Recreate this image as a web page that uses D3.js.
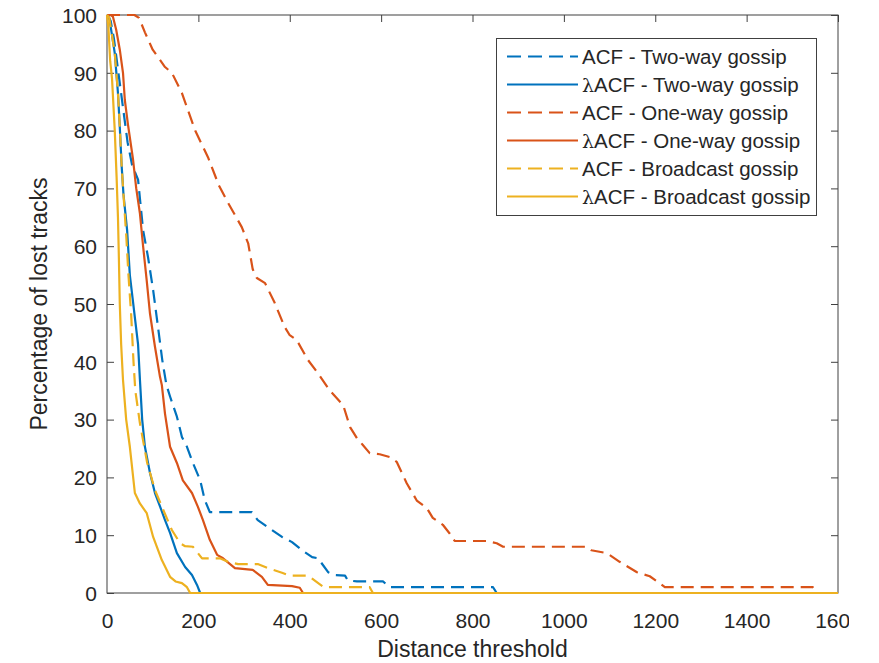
<!DOCTYPE html>
<html>
<head>
<meta charset="utf-8">
<script src="https://cdn.jsdelivr.net/npm/d3@7"></script>
<style>
  html, body { margin: 0; padding: 0; background: #fff; }
  svg text { font-family: "Liberation Sans", Arial, Helvetica, sans-serif; fill: #262626; }
</style>
</head>
<body>
<div id="chart"></div>
<script>
// Lost tracks vs distance threshold (MATLAB style line chart)

const xTicks = [0, 200, 400, 600, 800, 1000, 1200, 1400, 1600];
const yTicks = [0, 10, 20, 30, 40, 50, 60, 70, 80, 90, 100];

const seriesNames = [
    "ACF - Two-way gossip",
    "\u03bbACF - Two-way gossip",
    "ACF - One-way gossip",
    "\u03bbACF - One-way gossip",
    "ACF - Broadcast gossip",
    "\u03bbACF - Broadcast gossip"
];

// [distance, percentage]
const acfTwoWay = [[0,100],[8,99],[15,96],[25,90],[35,84],[45,78],[55,74],[68,71.5],[79,62.8],[90,58],[101,52.4],
    [110,47],[121,40.3],[130,36],[138,34],[153,30.5],[164,27],[175,25.3],[188,22.5],[204,19.5],[214,16.1],[225,14],
    [317,14],[330,12.6],[352,11.4],[383,9.7],[405,8.8],[427,7.4],[449,6.2],[462,6],[484,3.6],[499,3.1],[521,3],
    [527,2.2],[547,2],[604,2],[619,1],[845,1],[853,0],[1600,0]];

const lacfTwoWay = [[0,100],[5,99.5],[10,97],[17,93.4],[24,86.5],[28,80.6],[32,74],[36,69],[44,62.8],[50,55],
    [56,51],[62,47],[68,43],[72,37],[77,30],[83,25.3],[94,20.8],[105,17.3],[116,15],[127,12.6],[138,10.4],
    [153,6.9],[171,4.5],[186,3.1],[197,1.4],[204,0],[1600,0]];

const acfOneWay = [[0,100],[60,100],[70,99.5],[83,97],[100,94],[127,91],[142,90],[164,86.5],[193,80],[221,75.4],
    [245,70.5],[265,67.5],[295,63.3],[309,60.5],[319,56],[328,54.5],[346,53.6],[367,50.2],[389,46],[400,44.6],
    [415,43.8],[440,40.3],[462,38],[488,35],[517,32.5],[532,28.7],[547,26.8],[560,25.6],[575,24.2],[597,24],
    [620,23.5],[634,22.7],[656,19],[678,16],[700,14.7],[713,13],[735,11.8],[750,10.3],[761,9],[831,9],[853,8.6],
    [867,8],[1050,8],[1060,7.4],[1094,6.9],[1122,5.4],[1160,3.6],[1188,2.9],[1206,1.9],[1221,1],[1545,1],
    [1556,0],[1600,0]];

const lacfOneWay = [[0,100],[8,100],[13,99.7],[20,97.5],[28,94],[35,90],[39,85.3],[46,81],[57,75],[64,70],
    [72,65.7],[79,60],[87,54],[94,48.4],[105,42.6],[116,37.4],[120,36],[127,31],[138,25.3],[153,22.5],[166,19.5],
    [186,17.3],[199,14.9],[210,12.6],[225,9.2],[241,6.6],[254,6],[280,4.3],[319,4],[339,2.8],[352,1.4],
    [405,1.2],[422,0.9],[429,0],[1600,0]];

const acfBroadcast = [[0,100],[5,99.5],[10,97],[17,93.4],[24,86.5],[28,80.6],[32,74],[36,69],[42,62],[47,55],
    [53,48],[58,40],[62,35],[72,29.4],[88,22.5],[105,17.8],[123,14.4],[142,10.9],[160,8.6],[171,8.1],[188,8],
    [198,7],[208,6],[247,6],[265,5.4],[287,5],[330,5],[352,4.3],[383,3.5],[400,3],[440,3],[466,1.5],[475,1],
    [575,1],[582,0],[1600,0]];

const lacfBroadcast = [[0,100],[3,98],[7,92],[11,89],[17,80],[21,72],[24,65],[26,58],[28,50],[31,43],[35,36.9],
    [42,30],[50,25.3],[61,17.3],[72,15.5],[87,13.8],[101,9.7],[120,5.7],[138,2.8],[150,2],[164,1.7],[175,1],
    [182,0],[1600,0]];

const seriesData = [acfTwoWay, lacfTwoWay, acfOneWay, lacfOneWay, acfBroadcast, lacfBroadcast];
const seriesColors = ["#0072BD", "#0072BD", "#D95319", "#D95319", "#EDB120", "#EDB120"];
const seriesDashed = [true, false, true, false, true, false];

const width = 879, height = 663;
const plot = { left: 107, right: 838, top: 15, bottom: 593 };

const svg = d3.select("#chart").append("svg")
    .attr("width", width)
    .attr("height", height);

const x = d3.scaleLinear().domain([0, 1600]).range([plot.left, plot.right]);
const y = d3.scaleLinear().domain([0, 100]).range([plot.bottom, plot.top]);

const axisColor = "#404040";
const tickLen = 7;

// the figure was cropped on the right, cutting the last x label
svg.append("clipPath").attr("id", "labelClip")
    .append("rect").attr("x", 0).attr("y", 0).attr("width", 849).attr("height", height);

// bottom axis
const xAxisG = svg.append("g")
    .attr("transform", `translate(0,${plot.bottom})`)
    .attr("clip-path", "url(#labelClip)")
    .call(d3.axisBottom(x).tickValues(xTicks).tickSize(-tickLen).tickPadding(0).tickFormat(d3.format("d")));
xAxisG.select(".domain").remove();
xAxisG.selectAll(".tick line").attr("stroke", axisColor);
xAxisG.selectAll(".tick text")
    .attr("y", 34.5).attr("dy", null)
    .style("font-size", "21px");

// top ticks
const xTopG = svg.append("g")
    .attr("transform", `translate(0,${plot.top})`)
    .call(d3.axisTop(x).tickValues(xTicks).tickSize(-tickLen).tickFormat(""));
xTopG.select(".domain").remove();
xTopG.selectAll(".tick line").attr("stroke", axisColor);

// left axis
const yAxisG = svg.append("g")
    .attr("transform", `translate(${plot.left},0)`)
    .call(d3.axisLeft(y).tickValues(yTicks).tickSize(-tickLen).tickPadding(0));
yAxisG.select(".domain").remove();
yAxisG.selectAll(".tick line").attr("stroke", axisColor);
yAxisG.selectAll(".tick text")
    .attr("x", -10).attr("dy", "0.35em")
    .style("font-size", "21px");

// right ticks
const yRightG = svg.append("g")
    .attr("transform", `translate(${plot.right},0)`)
    .call(d3.axisRight(y).tickValues(yTicks).tickSize(-tickLen).tickFormat(""));
yRightG.select(".domain").remove();
yRightG.selectAll(".tick line").attr("stroke", axisColor);

// box
svg.append("rect")
    .attr("x", plot.left).attr("y", plot.top)
    .attr("width", plot.right - plot.left).attr("height", plot.bottom - plot.top)
    .attr("fill", "none").attr("stroke", axisColor).attr("stroke-width", 1);

// axis labels
svg.append("text")
    .attr("x", (plot.left + plot.right) / 2)
    .attr("y", 657)
    .attr("text-anchor", "middle")
    .style("font-size", "23px")
    .text("Distance threshold");

svg.append("text")
    .attr("transform", `translate(47,${(plot.top + plot.bottom) / 2}) rotate(-90)`)
    .attr("text-anchor", "middle")
    .style("font-size", "23px")
    .text("Percentage of lost tracks");

// lines
const line = d3.line().x(d => x(d[0])).y(d => y(d[1]));

seriesData.forEach((pts, i) => {
    svg.append("path")
        .datum(pts)
        .attr("d", line)
        .attr("fill", "none")
        .attr("stroke", seriesColors[i])
        .attr("stroke-width", 2.2)
        .attr("stroke-linejoin", "round")
        .attr("stroke-dasharray", seriesDashed[i] ? "13,7" : null);
});

// legend
const legend = svg.append("g");
legend.append("rect")
    .attr("x", 496.5).attr("y", 38.5)
    .attr("width", 320).attr("height", 177)
    .attr("fill", "#fff").attr("stroke", axisColor).attr("stroke-width", 1);

seriesNames.forEach((name, i) => {
    const cy = 56.5 + i * 28;
    legend.append("line")
        .attr("x1", 507).attr("x2", 578)
        .attr("y1", cy).attr("y2", cy)
        .attr("stroke", seriesColors[i])
        .attr("stroke-width", 2.2)
        .attr("stroke-dasharray", seriesDashed[i] ? "14,7" : null);
    const t = legend.append("text")
        .attr("x", 582).attr("y", cy)
        .attr("dy", "0.36em")
        .style("font-size", "20.5px");
    if (name.startsWith("\u03bb")) {
        t.append("tspan").style("font-family", "'DejaVu Serif', serif").style("font-size", "19px").text("\u03bb");
        t.append("tspan").text(name.slice(1));
    } else {
        t.text(name);
    }
});
</script>
</body>
</html>
